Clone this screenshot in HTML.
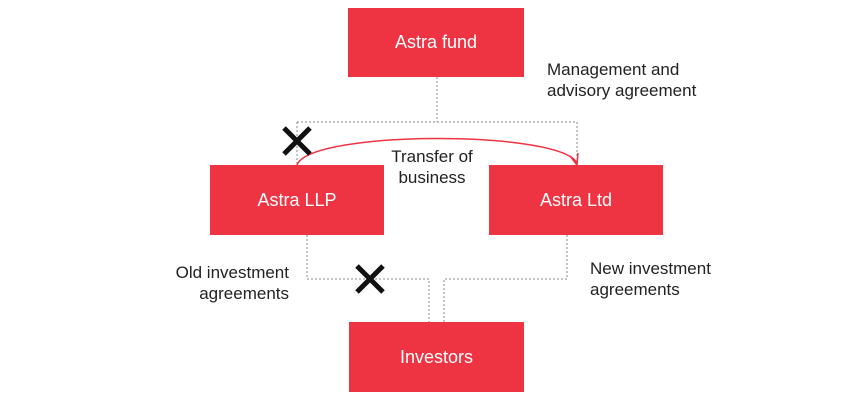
<!DOCTYPE html>
<html><head><style>
body{margin:0;background:#fff;width:868px;height:400px;overflow:hidden;position:relative;font-family:"Liberation Sans",Arial,sans-serif}
.b{position:absolute;background:#ee3342;color:#fff;font-size:18px;display:flex;align-items:center;justify-content:center}
.t{position:absolute;font-size:17px;color:#222;line-height:21px}
</style></head><body>
<svg width="868" height="400" style="position:absolute;left:0;top:0">
<g stroke="#888" stroke-width="1" stroke-dasharray="2,2" fill="none">
<path d="M437 77V122M297 122H577M297 122V165M577 122V165"/>
<path d="M307 235V279H429V322M567 235V279H444V322"/>
</g>
<path d="M297 165 C310 130 560 130 577 163" stroke="#ee3342" stroke-width="1.5" fill="none"/>
<path d="M570 156 L577 165 L578 153" stroke="#ee3342" stroke-width="1.5" fill="none"/>
<g stroke="#111" stroke-width="5">
<path d="M284 128L310 154M310 128L284 154"/>
<path d="M357 266L383 292M383 266L357 292"/>
</g>
</svg>
<div class="b" style="left:348px;top:8px;width:176px;height:69px">Astra fund</div>
<div class="b" style="left:210px;top:165px;width:174px;height:70px">Astra LLP</div>
<div class="b" style="left:489px;top:165px;width:174px;height:70px">Astra Ltd</div>
<div class="b" style="left:349px;top:322px;width:175px;height:70px">Investors</div>
<div class="t" style="left:372px;top:146px;width:120px;text-align:center">Transfer of<br>business</div>
<div class="t" style="left:547px;top:59px">Management and<br>advisory agreement</div>
<div class="t" style="left:130px;top:262px;width:159px;text-align:right">Old investment<br>agreements</div>
<div class="t" style="left:590px;top:258px">New investment<br>agreements</div>
</body></html>
